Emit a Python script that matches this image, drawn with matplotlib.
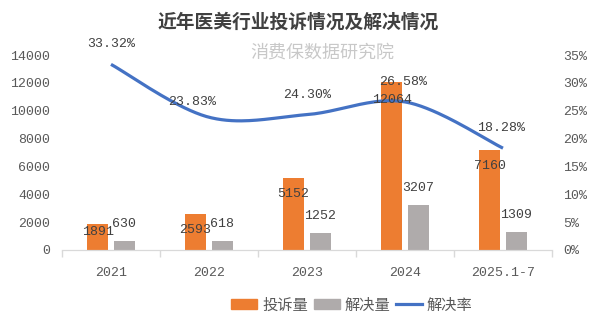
import numpy as np
import matplotlib
matplotlib.use('Agg')
import matplotlib.pyplot as plt
from matplotlib.patches import Patch
from matplotlib.lines import Line2D

plt.rcParams['font.family'] = ['Liberation Mono', 'Noto Sans CJK SC']

# 数据
years = ['2021', '2022', '2023', '2024', '2025.1-7']
complaints = [1891, 2593, 5152, 12064, 7160]
resolved = [630, 618, 1252, 3207, 1309]
rate = [33.32, 23.83, 24.30, 26.58, 18.28]

ORANGE = '#ED7D31'
GRAY = '#AFABAB'
BLUE = '#4472C4'
TXT = '#404040'
TICK = '#595959'


def smooth(xs, ys, n=40):
    # Catmull-Rom 平滑曲线
    px = np.r_[xs[0], xs, xs[-1]]
    py = np.r_[ys[0], ys, ys[-1]]
    t = np.linspace(0, 1, n)
    ox, oy = [], []
    for i in range(1, len(px) - 2):
        for p, o in ((px, ox), (py, oy)):
            p0, p1, p2, p3 = p[i - 1], p[i], p[i + 1], p[i + 2]
            o.extend(0.5 * ((2 * p1) + (-p0 + p2) * t
                            + (2 * p0 - 5 * p1 + 4 * p2 - p3) * t ** 2
                            + (-p0 + 3 * p1 - 3 * p2 + p3) * t ** 3))
    return np.array(ox), np.array(oy)


fig = plt.figure(figsize=(5.98, 3.28), dpi=100)
ax = fig.add_axes([62 / 598, 1 - 250 / 328, 490 / 598, 195 / 328])
ax2 = ax.twinx()

x = np.arange(len(years))
w = 0.21
b1 = ax.bar(x - 0.137, complaints, w, color=ORANGE)
b2 = ax.bar(x + 0.135, resolved, w, color=GRAY)

ax.set_xlim(-0.5, len(years) - 0.5)
ax.set_ylim(0, 14000)
ax.set_yticks(range(0, 14001, 2000))
ax2.set_ylim(0, 35)
ax2.set_yticks(range(0, 36, 5))
ax2.set_yticklabels([f'{v}%' for v in range(0, 36, 5)])

ax.set_xticks(x)
ax.set_xticklabels(years)
ax.set_xticks(np.arange(-0.5, len(years)), minor=True)
ax.tick_params(axis='x', which='major', length=0, pad=12, labelsize=9.5, labelcolor=TICK)
ax.tick_params(axis='x', which='minor', length=5, color='#D9D9D9', width=1)
ax.tick_params(axis='y', length=0, pad=8.5, labelsize=9.5, labelcolor=TICK)
ax2.tick_params(axis='y', length=0, pad=8, labelsize=9.5, labelcolor=TICK)

for a in (ax, ax2):
    for s in ('top', 'left', 'right'):
        a.spines[s].set_visible(False)
    a.spines['bottom'].set_color('#D9D9D9')

# 解决率曲线
sx, sy = smooth(x.astype(float), np.array(rate))
ax2.plot(sx, sy, color=BLUE, lw=2.3, solid_capstyle='butt')

# 数据标签
bar_off = [-8, -16, -16, -18, -16]
for i in range(len(years)):
    ax2.annotate(str(complaints[i]), (x[i] - 0.137, complaints[i] / 400),
                 xytext=(0, bar_off[i]), textcoords='offset pixels',
                 ha='center', va='center', fontsize=9.5, color=TXT)
    ax2.annotate(str(resolved[i]), (x[i] + 0.135, resolved[i] / 400),
                 xytext=(0, 17), textcoords='offset pixels',
                 ha='center', va='center', fontsize=9.5, color=TXT)

rate_off = [(0, 20), (-17, 15), (0, 20), (-2, 20), (-2, 20)]
for i in range(len(years)):
    ax2.annotate(f'{rate[i]:.2f}%', (x[i], rate[i]),
                 xytext=rate_off[i], textcoords='offset pixels',
                 ha='center', va='center', fontsize=9.5, color=TXT)

fig.text(298.5 / 598, 1 - 22 / 328, '近年医美行业投诉情况及解决情况',
         ha='center', va='center', fontsize=13.5, fontweight='bold',
         color=TXT, family='Noto Sans CJK SC')
fig.text(322 / 598, 1 - 53 / 328, '消费保数据研究院',
         ha='center', va='center', fontsize=13, color='#C8C8C8',
         family='Noto Sans CJK SC')

handles = [Patch(color=ORANGE), Patch(color=GRAY), Line2D([], [], color=BLUE, lw=2.3)]
fig.legend(handles, ['投诉量', '解决量', '解决率'], loc='center',
           bbox_to_anchor=(352 / 598, 1 - 305 / 328), ncol=3, frameon=False,
           prop={'family': 'Noto Sans CJK SC', 'size': 11}, labelcolor=TICK,
           handlelength=1.7, handleheight=0.6, handletextpad=0.3,
           columnspacing=0.4)

fig.savefig('out.png', dpi=100)
